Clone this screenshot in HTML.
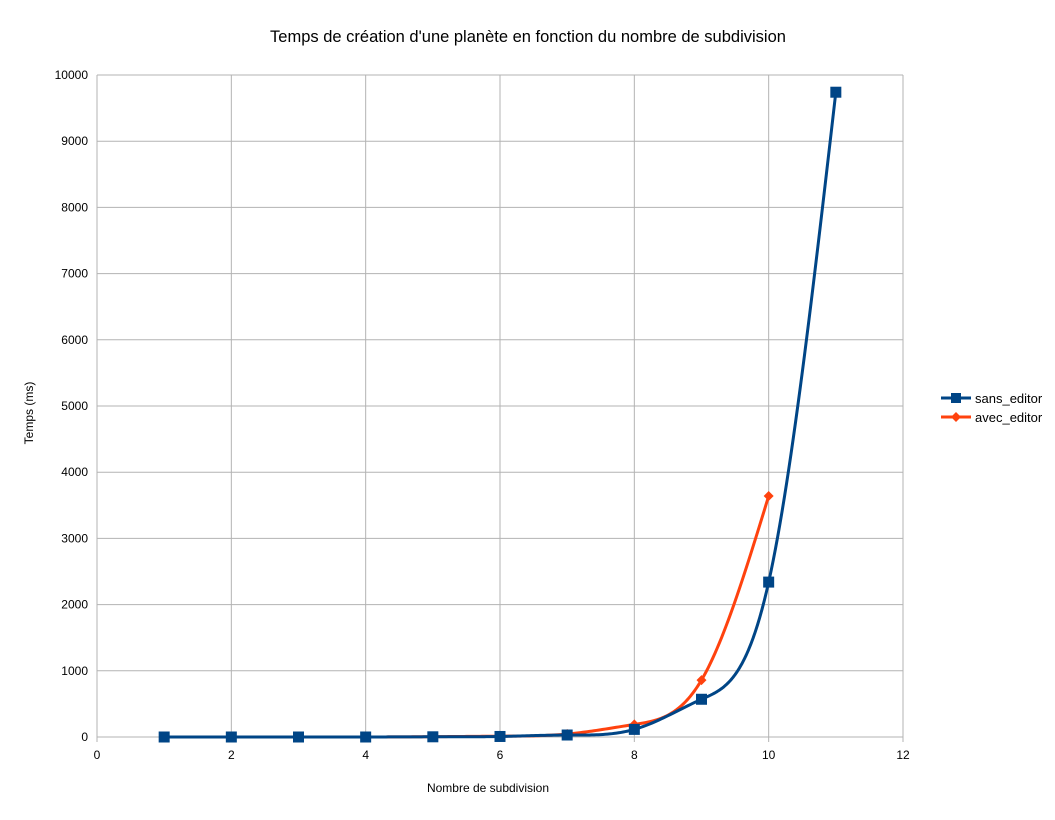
<!DOCTYPE html>
<html><head><meta charset="utf-8"><style>
body{margin:0;background:#fff;}
svg text{font-family:"Liberation Sans",sans-serif;}
</style></head><body>
<svg id="chart" width="1055" height="815" xmlns="http://www.w3.org/2000/svg">
<text x="528" y="42" font-size="16.5" text-anchor="middle" fill="#000">Temps de création d'une planète en fonction du nombre de subdivision</text>
<g id="grid"></g>
<g id="ticks" font-size="12" fill="#000"></g>
<text transform="translate(33,413) rotate(-90)" font-size="12" text-anchor="middle">Temps (ms)</text>
<text x="488" y="792" font-size="12" text-anchor="middle">Nombre de subdivision</text>
<g id="series"></g>
<g font-size="13">
<g>
<line x1="941" y1="398" x2="971" y2="398" stroke="#004586" stroke-width="3"/>
<rect x="951" y="393" width="10" height="10" fill="#004586"/>
<text x="975" y="403">sans_editor</text></g>
<g>
<line x1="941" y1="417" x2="971" y2="417" stroke="#ff420e" stroke-width="3"/>
<path d="M956 412 L961 417 L956 422 L951 417Z" fill="#ff420e"/>
<text x="975" y="422">avec_editor</text></g>
</g>
</svg>
<script>
const xTicks=[0,2,4,6,8,10,12];
const yTicks=[0,1000,2000,3000,4000,5000,6000,7000,8000,9000,10000];
const sansX=[1,2,3,4,5,6,7,8,9,10,11];
const sansY=[0,0,0,0,3,8,30,115,570,2340,9740];
const avecX=[1,2,3,4,5,6,7,8,9,10];
const avecY=[0,0,0,0,5,12,45,190,860,3640];
const X0=97,X1=903,Y0=737,Y1=75;
const sx=v=>X0+(v-0)/12*(X1-X0);
const sy=v=>Y0-(v/10000)*(Y0-Y1);
const NS="http://www.w3.org/2000/svg";
function mk(tag,attrs,parent){const e=document.createElementNS(NS,tag);for(const k in attrs)e.setAttribute(k,attrs[k]);parent.appendChild(e);return e;}
const grid=document.getElementById('grid'),ticks=document.getElementById('ticks'),series=document.getElementById('series');
yTicks.forEach(t=>{
 const l=mk('line',{x1:X0,x2:X1,y1:sy(t),y2:sy(t),stroke:'#b3b3b3','stroke-width':1},grid);
 
 
 const tx=mk('text',{x:X0-9,y:sy(t)+4,'text-anchor':'end'},ticks);tx.textContent=t;
 
 
});
xTicks.forEach(t=>{
 const l=mk('line',{x1:sx(t),x2:sx(t),y1:Y1,y2:Y0+5,stroke:'#b3b3b3','stroke-width':1},grid);
 
 
 const tx=mk('text',{x:sx(t),y:Y0+22,'text-anchor':'middle'},ticks);tx.textContent=t;
 
 
});
function spline(xs,ys){
 const n=xs.length,h=[],a=[],l=[1],mu=[0],z=[0],c=new Array(n).fill(0),b=[],d=[];
 for(let i=0;i<n-1;i++)h.push(xs[i+1]-xs[i]);
 for(let i=1;i<n-1;i++)a[i]=3/h[i]*(ys[i+1]-ys[i])-3/h[i-1]*(ys[i]-ys[i-1]);
 for(let i=1;i<n-1;i++){l[i]=2*(xs[i+1]-xs[i-1])-h[i-1]*mu[i-1];mu[i]=h[i]/l[i];z[i]=(a[i]-h[i-1]*z[i-1])/l[i];}
 for(let j=n-2;j>=0;j--){c[j]=(j<n-1&&j>0?z[j]-mu[j]*c[j+1]:0);if(j===0)c[0]=0;b[j]=(ys[j+1]-ys[j])/h[j]-h[j]*(c[j+1]+2*c[j])/3;d[j]=(c[j+1]-c[j])/(3*h[j]);}
 let pts=[];
 for(let i=0;i<n-1;i++){for(let k=0;k<=30;k++){const t=k/30*h[i];const y=ys[i]+b[i]*t+c[i]*t*t+d[i]*t*t*t;pts.push(sx(xs[i]+t).toFixed(2)+','+sy(y).toFixed(2));}}
 return 'M'+pts.join(' L');
}
function draw(xs,ys,color,shape,name){
 const g=mk('g',{},series);
 
 
 mk('path',{d:spline(xs,ys),fill:'none',stroke:color,'stroke-width':3,'stroke-linejoin':'round'},g);
 xs.forEach((x,i)=>{
  const cx=sx(x),cy=sy(ys[i]);let m;
  if(shape==='sq')m=mk('rect',{x:cx-5.5,y:cy-5.5,width:11,height:11,fill:color},g);
  else m=mk('path',{d:`M${cx} ${cy-5} L${cx+5} ${cy} L${cx} ${cy+5} L${cx-5} ${cy}Z`,fill:color},g);
  
  
 });
}
draw(avecX,avecY,'#ff420e','di','avec-editor-series');
draw(sansX,sansY,'#004586','sq','sans-editor-series');
</script>
</body></html>
